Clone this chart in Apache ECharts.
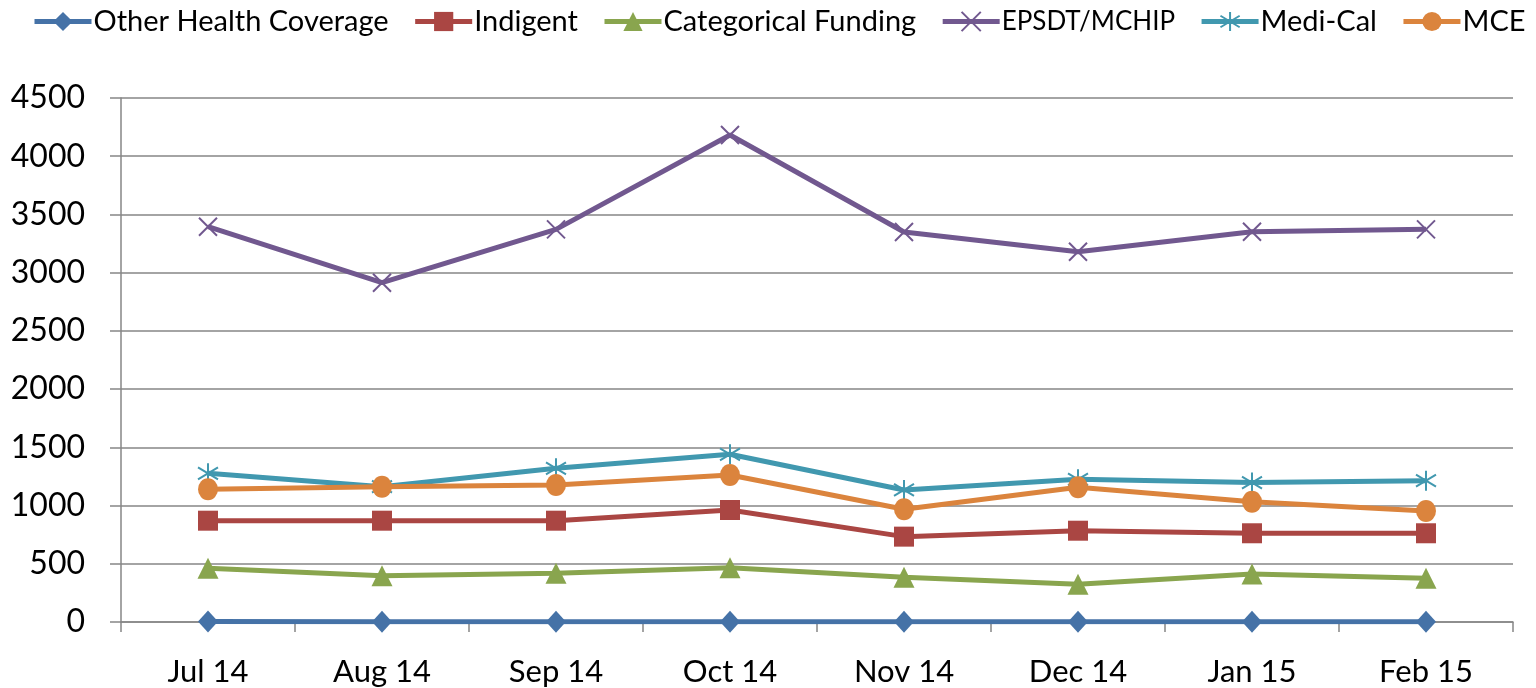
<!DOCTYPE html>
<html><head><meta charset="utf-8">
<script src="https://cdn.jsdelivr.net/npm/echarts@6/dist/echarts.min.js"></script>
<style>html,body{margin:0;padding:0;background:#fff}#c{width:1536px;height:688px}</style>
</head><body><div id="c"></div>
<script>
const categories = ['Jul 14','Aug 14','Sep 14','Oct 14','Nov 14','Dec 14','Jan 15','Feb 15'];
const otherHealth = [5, 2, 2, 2, 2, 2, 2, 2];
const indigent = [870, 870, 870, 962, 733, 784, 762, 762];
const categorical = [461, 398, 418, 466, 384, 324, 412, 375];
const epsdt = [3395, 2914, 3372, 4182, 3349, 3180, 3352, 3372];
const mediCal = [1277, 1162, 1320, 1440, 1134, 1225, 1197, 1214];
const mce = [1140, 1162, 1177, 1262, 968, 1157, 1033, 953];
const yTicks = [0, 500, 1000, 1500, 2000, 2500, 3000, 3500, 4000, 4500];
const seriesNames = ['Other Health Coverage','Indigent','Categorical Funding','EPSDT/MCHIP','Medi-Cal','MCE'];

const FONT = 'Lato';
const XPATH = 'path://M0,0L10,10M10,0L0,10';
const STAR = 'path://M5,0L5,10M0,2L10,8M0,8L10,2';
function s(name, data, color, symbol, size, stroke) {
  return {
    name, type: 'line', data, symbol, symbolSize: size,
    lineStyle: { color, width: 5 },
    itemStyle: stroke ? { color: 'rgba(0,0,0,0)', borderColor: color, borderWidth: 2 } : { color, borderWidth: 0 },
    emphasis: { disabled: true }, animation: false, z: 2
  };
}
const chart = echarts.init(document.getElementById('c'));
chart.setOption({
  backgroundColor: '#fff',
  textStyle: { fontFamily: FONT },
  legend: {
    top: 2, left: 27, width: 1508, padding: 5, itemWidth: 57, itemHeight: 24, itemGap: 24,
    lineStyle: { width: 5 },
    textStyle: { fontFamily: FONT, fontSize: 29, color: '#000', padding: [0, 0, 0, -3] },
    data: seriesNames.map(n => n === 'EPSDT/MCHIP'
      ? { name: n, textStyle: { fontSize: 26, padding: [0, 0, 0, -3] } }
      : n)
  },
  grid: { left: 121, right: 23, top: 98, bottom: 66, containLabel: false },
  xAxis: {
    type: 'category', data: categories, boundaryGap: true,
    axisLine: { lineStyle: { color: '#868686', width: 1.5 } },
    axisTick: { show: true, length: 10, lineStyle: { color: '#868686', width: 1.5 } },
    axisLabel: { fontFamily: FONT, fontSize: 31, color: '#000', margin: 34 }
  },
  yAxis: {
    type: 'value', min: 0, max: 4500, interval: 500,
    axisLine: { show: true, lineStyle: { color: '#868686', width: 1.5 } },
    axisTick: { show: true, length: 11, lineStyle: { color: '#868686', width: 1.5 } },
    splitLine: { lineStyle: { color: '#868686', width: 1.5 } },
    axisLabel: { fontFamily: FONT, fontSize: 32, color: '#000', margin: 36,
      formatter: v => yTicks.includes(v) ? String(v) : '' }
  },
  series: [
    s(seriesNames[0], otherHealth, '#4572A7', 'diamond', [20, 22]),
    s(seriesNames[1], indigent, '#AA4643', 'rect', 20),
    s(seriesNames[2], categorical, '#89A54E', 'triangle', 21),
    s(seriesNames[3], epsdt, '#71588F', XPATH, 18, true),
    s(seriesNames[4], mediCal, '#4198AF', STAR, 20, true),
    s(seriesNames[5], mce, '#DB843D', 'circle', [20, 22])
  ]
});
</script></body></html>
